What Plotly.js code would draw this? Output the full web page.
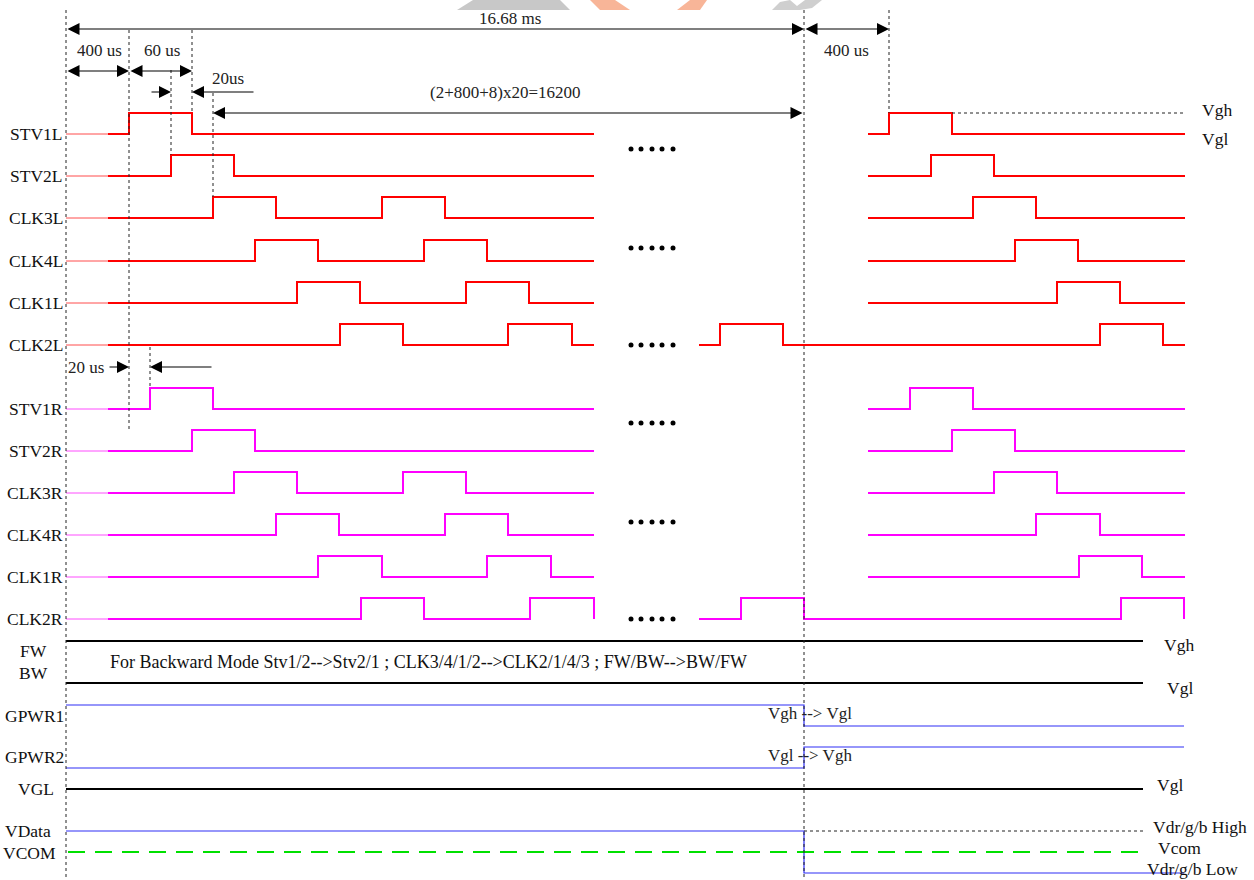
<!DOCTYPE html>
<html><head><meta charset="utf-8">
<script src="https://cdn.plot.ly/plotly-3.0.1.min.js"></script>
<style>html,body{margin:0;padding:0;background:#fff}#chart{width:1254px;height:880px}</style>
</head><body><div id="chart"></div>
<script>
// ---------- DATA ----------
const rowNames = ["STV1L","STV2L","CLK3L","CLK4L","CLK1L","CLK2L","STV1R","STV2R","CLK3R","CLK4R","CLK1R","CLK2R"];
const rowLow   = [134,176,218,261,303,345,409,451,493,535,577,619];
const pulseHeight = 21;
const rowColor = ["#ff0000","#ff0000","#ff0000","#ff0000","#ff0000","#ff0000","#ff00ff","#ff00ff","#ff00ff","#ff00ff","#ff00ff","#ff00ff"];
const leadStart = 66, leadEnd = 108;
// left block: edges (rise, fall, ...) between leadEnd and leftEnd
const leftEnd = 594;
const leftEdges = [
  [129,192],[171,234],[213,276,382,445],[255,318,424,487],[297,360,466,529],[340,403,508,572],
  [150,213],[192,255],[234,297,403,466],[276,339,445,508],[318,382,487,551],[361,424,530,594]
];
// right block: [start, end, edges]
const rightBlocks = [
  [868,1185,[889,952]],[868,1185,[931,994]],[868,1185,[973,1036]],[868,1185,[1015,1078]],[868,1185,[1057,1120]],
  [699,1185,[720,783,1100,1163]],
  [868,1185,[910,973]],[868,1185,[952,1015]],[868,1185,[994,1057]],[868,1185,[1036,1100]],[868,1185,[1079,1142]],
  [699,1184,[741,804,1121,1184]]
];
const ellipsisX = [631,641,652,662,673];
const ellipsisY = [149,248,345,423,522,619];

// static levels
const blackLevels = [641,683,789];   // FW(Vgh), BW(Vgl), VGL
const blackStart = 66, blackEnd = 1143;
const frameX = 804;                  // frame boundary
const gpwr1 = [705,726], gpwr2 = [768,747], vdata = [831,873];
const blueEnd = 1184;
const vcomY = 852;

const leftLabels = [
  ["FW",33,651,"center"],["BW",33,673,"center"],["GPWR1",66,716,"right"],["GPWR2",66,757,"right"],
  ["VGL",56,789,"right"],["VData",53,831,"right"],["VCOM",58,853,"right"]
];
const rightLabels = [
  ["Vgh",1200,110],["Vgl",1200,139],["Vgh",1162,645],["Vgl",1165,688],["Vgl",1155,785],
  ["Vdr/g/b High",1151,827],["Vcom",1156,848],["Vdr/g/b Low",1145,869]
];
const dimTexts = [
  ["16.68 ms",510,18],["400 us",99,50],["60 us",162,50],["20us",228,78],["400 us",846,50],
  ["(2+800+8)x20=16200",505,92],["20 us",86,367],["Vgh --> Vgl",810,713],["Vgl --> Vgh",810,755]
];
// arrows: [xHead, yHead, xTail, yTail, double]
const arrows = [
  [804,29,66,29,true],[889,29,804,29,true],[129,71,66,71,true],[192,71,129,71,true],
  [171,92,150,92,false],[192,92,255,92,false],[213,113,804,113,true],
  [129,367,108,367,false],[150,367,213,367,false]
];
// dotted guide lines: [x0,y0,x1,y1]
const guides = [
  [66,10,66,880],[129,30,129,432],[192,30,192,113],[171,70,171,155],[213,93,213,197],
  [150,347,150,388],[804,10,804,880],[889,10,889,113],[952,113,1185,113],[804,831,1143,831]
];
const noteText = "For Backward Mode Stv1/2-->Stv2/1 ; CLK3/4/1/2-->CLK2/1/4/3 ; FW/BW-->BW/FW";

// ---------- BUILD ----------
function wave(start, end, edges, low, high){
  const xs=[start], ys=[low]; let lvl=low;
  edges.forEach(e=>{ lvl = (lvl===low)?high:low; xs.push(e); ys.push(lvl); });
  if (xs[xs.length-1]!==end){ xs.push(end); ys.push(lvl); }
  return {xs, ys};
}
const traces=[];
rowNames.forEach((n,i)=>{
  const low=rowLow[i], high=low-pulseHeight, c=rowColor[i];
  traces.push({x:[leadStart,leadEnd],y:[low,low],mode:'lines',line:{color:c,width:1},opacity:0.7,hoverinfo:'skip'});
  const a=wave(leadEnd,leftEnd,leftEdges[i],low,high);
  traces.push({x:a.xs,y:a.ys,mode:'lines',line:{color:c,width:2,shape:'hv'},hoverinfo:'skip'});
  const rb=rightBlocks[i];
  const b=wave(rb[0],rb[1],rb[2],low,high);
  traces.push({x:b.xs,y:b.ys,mode:'lines',line:{color:c,width:2,shape:'hv'},hoverinfo:'skip'});
});
blackLevels.forEach(y=>traces.push({x:[blackStart,blackEnd],y:[y,y],mode:'lines',line:{color:'#000',width:2},hoverinfo:'skip'}));
[gpwr1,gpwr2,vdata].forEach(g=>traces.push({x:[66,frameX,blueEnd],y:[g[0],g[1],g[1]],mode:'lines',line:{color:'#2e2ef5',width:1.2,shape:'hv'},hoverinfo:'skip'}));
traces.push({x:[68,blackEnd],y:[vcomY,vcomY],mode:'lines',line:{color:'#00e000',width:2,dash:'17px,10px'},hoverinfo:'skip'});
ellipsisY.forEach(y=>traces.push({x:ellipsisX,y:ellipsisX.map(()=>y),mode:'markers',marker:{color:'#000',size:5},hoverinfo:'skip'}));

const shapes = guides.map(g=>({type:'line',x0:g[0],y0:g[1],x1:g[2],y1:g[3],line:{color:'#222',width:1,dash:'3px,3px'}}));
// faint watermark fragments at the top edge
shapes.push({type:'path',path:'M457,10 L473,0 L560,0 L570,10 Z',fillcolor:'#c8c8c8',line:{width:0},layer:'below'});
shapes.push({type:'path',path:'M590,0 L615,0 L630,10 L600,10 Z',fillcolor:'#f8b598',line:{width:0},layer:'below'});
shapes.push({type:'path',path:'M690,0 L707,0 L700,10 L677,10 Z',fillcolor:'#f8b598',line:{width:0},layer:'below'});
shapes.push({type:'path',path:'M772,10 L780,2 L790,0 L797,6 L805,0 L822,0 L812,8 L800,10 Z',fillcolor:'#cfcfcf',line:{width:0},layer:'below'});

const F = "'Liberation Serif','Times New Roman',serif";
const ann=[];
rowNames.forEach((n,i)=>ann.push({x:65,y:rowLow[i],text:n,showarrow:false,xanchor:'right',yanchor:'middle',font:{family:F,size:17.5,color:'#111'}}));
leftLabels.forEach(l=>ann.push({x:l[1],y:l[2],text:l[0],showarrow:false,xanchor:l[3],yanchor:'middle',font:{family:F,size:17.5,color:'#111'}}));
rightLabels.forEach(l=>ann.push({x:l[1],y:l[2],text:l[0],showarrow:false,xanchor:'left',yanchor:'middle',font:{family:F,size:17.5,color:'#111'}}));
dimTexts.forEach(l=>ann.push({x:l[1],y:l[2],text:l[0],showarrow:false,xanchor:'center',yanchor:'middle',font:{family:F,size:17,color:'#222'}}));
ann.push({x:108,y:662,text:noteText,showarrow:false,xanchor:'left',yanchor:'middle',font:{family:F,size:18,color:'#111'}});
arrows.forEach(a=>ann.push({x:a[0],y:a[1],ax:a[2],ay:a[3],axref:'x',ayref:'y',xref:'x',yref:'y',text:'',showarrow:true,
  arrowhead:2,startarrowhead:2,arrowside:a[4]?'end+start':'end',arrowsize:2,startarrowsize:2,arrowwidth:1.2,arrowcolor:'#000'}));

const layout={width:1254,height:880,margin:{l:0,r:0,t:0,b:0},paper_bgcolor:'#fff',plot_bgcolor:'#fff',showlegend:false,
  xaxis:{range:[0,1254],visible:false,fixedrange:true},
  yaxis:{range:[880,0],visible:false,fixedrange:true},
  shapes:shapes,annotations:ann};
Plotly.newPlot('chart',traces,layout,{staticPlot:true,displayModeBar:false});
</script></body></html>
